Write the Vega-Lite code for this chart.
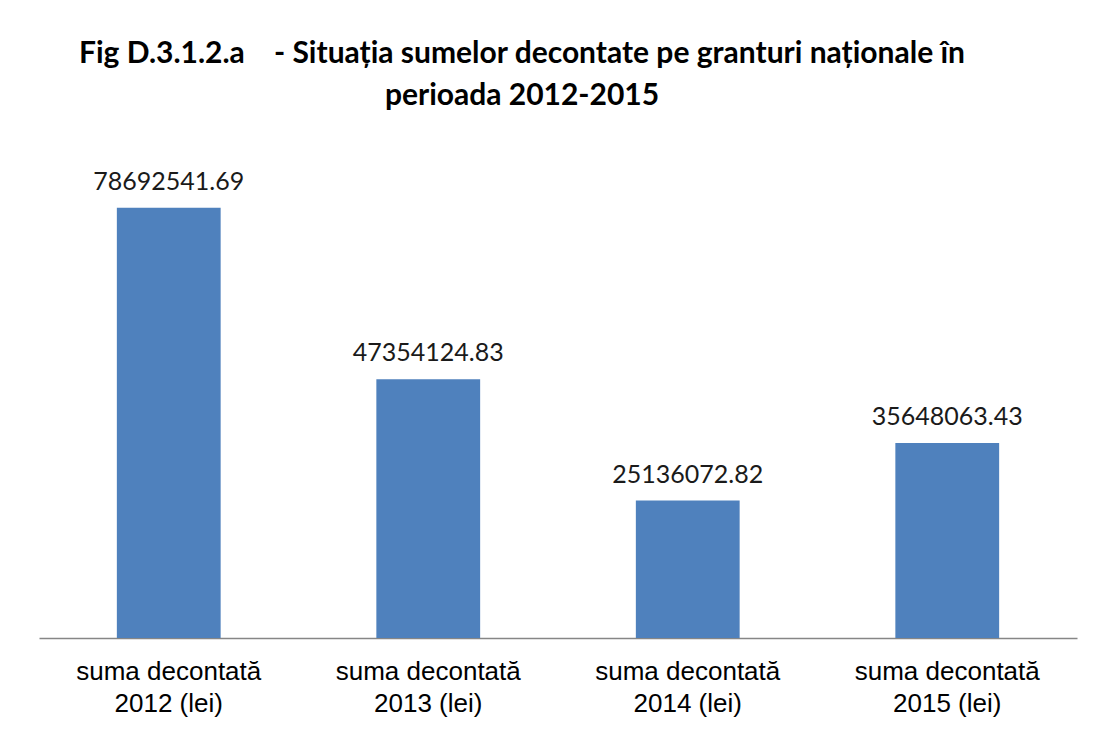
{
  "$schema": "https://vega.github.io/schema/vega-lite/v6.json",
  "autosize": "none",
  "width": 1038,
  "height": 492,
  "padding": {"left": 39, "top": 146, "right": 19, "bottom": 91},
  "background": "white",
  "title": {
    "text": ["Fig D.3.1.2.a\u00a0\u00a0\u00a0\u00a0- Situația sumelor decontate pe granturi naționale în", "perioada 2012-2015"],
    "font": "Lato",
    "fontWeight": "bold",
    "fontSize": 30,
    "color": "#000000",
    "anchor": "middle",
    "dx": -36,
    "lineHeight": 42,
    "offset": 35
  },
  "data": {
    "values": [
      {"categorie": "suma decontată\n2012 (lei)", "suma": 78692541.69},
      {"categorie": "suma decontată\n2013 (lei)", "suma": 47354124.83},
      {"categorie": "suma decontată\n2014 (lei)", "suma": 25136072.82},
      {"categorie": "suma decontată\n2015 (lei)", "suma": 35648063.43}
    ]
  },
  "encoding": {
    "x": {
      "field": "categorie",
      "type": "nominal",
      "sort": null,
      "scale": {"paddingInner": 0.6, "paddingOuter": 0.3},
      "axis": {
        "title": null,
        "labelAngle": 0,
        "labelExpr": "split(datum.label, '\\n')",
        "labelFont": "Liberation Sans",
        "labelFontSize": 26,
        "labelColor": "#000000",
        "labelLineHeight": 32,
        "labelPadding": 20,
        "labelBaseline": "top",
        "labelLimit": 0,
        "ticks": false,
        "domainColor": "#868686",
        "domainWidth": 1.5,
        "grid": false
      }
    },
    "y": {
      "field": "suma",
      "type": "quantitative",
      "scale": {"domain": [0, 90000000], "nice": false},
      "axis": null
    }
  },
  "layer": [
    {"mark": {"type": "bar", "color": "#4F81BD"}},
    {
      "mark": {"type": "text", "baseline": "alphabetic", "dy": -18, "font": "Lato", "fontSize": 25, "color": "#1a1a1a"},
      "encoding": {"text": {"field": "suma", "type": "quantitative", "format": ".2f"}}
    }
  ],
  "config": {"view": {"stroke": null}}
}
